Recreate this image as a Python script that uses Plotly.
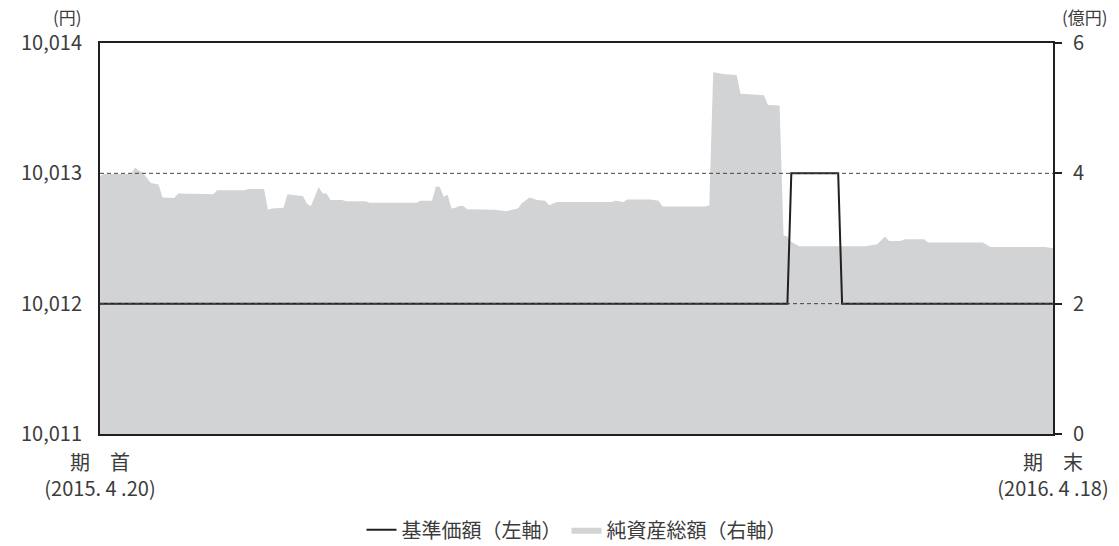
import plotly.graph_objects as go

# ---- data (trading-day index from 2015-04-20) ----
nav_day = [0, 1, 8, 9, 10, 11, 13, 15, 16, 19, 20, 29, 30, 37, 38, 42, 43, 44, 47, 48,
           52, 53, 54, 56, 57, 58, 59, 62, 63, 68, 69, 81, 82, 85, 86, 87, 88, 89, 90, 91,
           92, 93, 94, 97, 101, 104, 106, 107, 108, 110, 112, 114, 115, 117, 131, 132, 134, 135, 141, 143,
           144, 153, 154, 155, 156, 157, 160, 163, 164, 170, 171, 174, 175, 176, 177, 179, 196, 199, 201, 202,
           205, 206, 211, 212, 226, 228, 242, 244]
nav_val = [3.96, 3.99, 3.99, 4.09, 4.04, 4.01, 3.85, 3.83, 3.63, 3.62,
           3.69, 3.68, 3.74, 3.74, 3.76, 3.76, 3.44, 3.46, 3.47, 3.68,
           3.65, 3.53, 3.50, 3.79, 3.69, 3.69, 3.59, 3.59, 3.57, 3.57,
           3.55, 3.55, 3.58, 3.58, 3.80, 3.79, 3.64, 3.67, 3.46, 3.47,
           3.50, 3.50, 3.45, 3.45, 3.44, 3.42, 3.45, 3.46, 3.54, 3.63,
           3.59, 3.58, 3.51, 3.56, 3.56, 3.58, 3.56, 3.60, 3.60, 3.58,
           3.49, 3.49, 3.50, 3.49, 3.51, 5.55, 5.52, 5.51, 5.22, 5.20,
           5.05, 5.04, 3.05, 3.03, 2.95, 2.88, 2.88, 2.91, 3.03, 2.96,
           2.96, 2.99, 2.99, 2.94, 2.94, 2.87, 2.87, 2.85]

price_day = [0, 176, 177, 189, 190, 244]
price_val = [10012, 10012, 10013, 10013, 10012, 10012]

x_tick_vals = [0, 244]
x_tick_text = ["期\u3000首<br>(2015. 4 .20)", "期\u3000末<br>(2016. 4 .18)"]
left_ticks = [10011, 10012, 10013, 10014]
right_ticks = [0, 2, 4, 6]
grid_left = [10012, 10013]

series_names = ["基準価額（左軸）", "純資産総額（右軸）"]
unit_left = "(円)"
unit_right = "(億円)"

FONT = "Noto Sans CJK JP"
TXT = "#3c3c3c"
AX = "#231f20"

fig = go.Figure()
fig.add_trace(go.Scatter(
    x=nav_day, y=nav_val, name=series_names[1], yaxis="y",
    mode="lines", fill="tozeroy", fillcolor="#d2d3d5",
    line=dict(width=0, color="#d2d3d5"), hoverinfo="skip", legendrank=2))
fig.add_trace(go.Scatter(
    x=price_day, y=price_val, name=series_names[0], yaxis="y2",
    mode="lines", line=dict(width=2, color=AX), hoverinfo="skip", legendrank=1))

for g in grid_left:
    fig.add_shape(type="line", xref="paper", x0=0, x1=1, yref="y2", y0=g, y1=g,
                  line=dict(color="#444444", width=1, dash="4px,3px"), layer="above")

fig.update_layout(
    width=1119, height=546,
    margin=dict(l=100, r=66, t=43, b=112, autoexpand=False),
    paper_bgcolor="white", plot_bgcolor="white",
    font=dict(family=FONT, size=21, color=TXT),
    showlegend=True,
    legend=dict(orientation="h", x=0.5, xanchor="center", y=-0.245, yanchor="middle",
                font=dict(size=20, color=TXT), traceorder="normal"),
    xaxis=dict(range=[0, 244], tickmode="array", tickvals=x_tick_vals, ticktext=x_tick_text,
               showgrid=False, zeroline=False, showline=True, mirror=True, automargin=False,
               linecolor=AX, linewidth=2, ticks="", tickfont=dict(size=20),
               ticklabelstandoff=10),
    yaxis=dict(range=[0, 6], side="right", tickmode="array", tickvals=right_ticks,
               showgrid=False, zeroline=False, showline=True, linecolor=AX, linewidth=2,
               ticks="outside", ticklen=7, tickwidth=2, tickcolor=AX, automargin=False,
               ticklabelstandoff=7, tickfont=dict(size=20)),
    yaxis2=dict(range=[10011, 10014], side="left", overlaying="y", tickmode="array",
                tickvals=left_ticks, tickformat=",d", showgrid=False, zeroline=False,
                showline=True, linecolor=AX, linewidth=2, ticks="", automargin=False,
                ticklabelstandoff=12, tickfont=dict(size=20)),
    annotations=[
        dict(text=unit_left, xref="paper", yref="paper", x=0, y=1, xshift=-16, yshift=27,
             xanchor="right", yanchor="middle", showarrow=False, font=dict(size=17, color=TXT)),
        dict(text=unit_right, xref="paper", yref="paper", x=1, y=1, xshift=32, yshift=27,
             xanchor="center", yanchor="middle", showarrow=False, font=dict(size=17, color=TXT)),
    ],
)

fig.write_html("out.html", config={"displayModeBar": False},
               post_script="document.body.style.margin='0';document.body.style.padding='0';")
